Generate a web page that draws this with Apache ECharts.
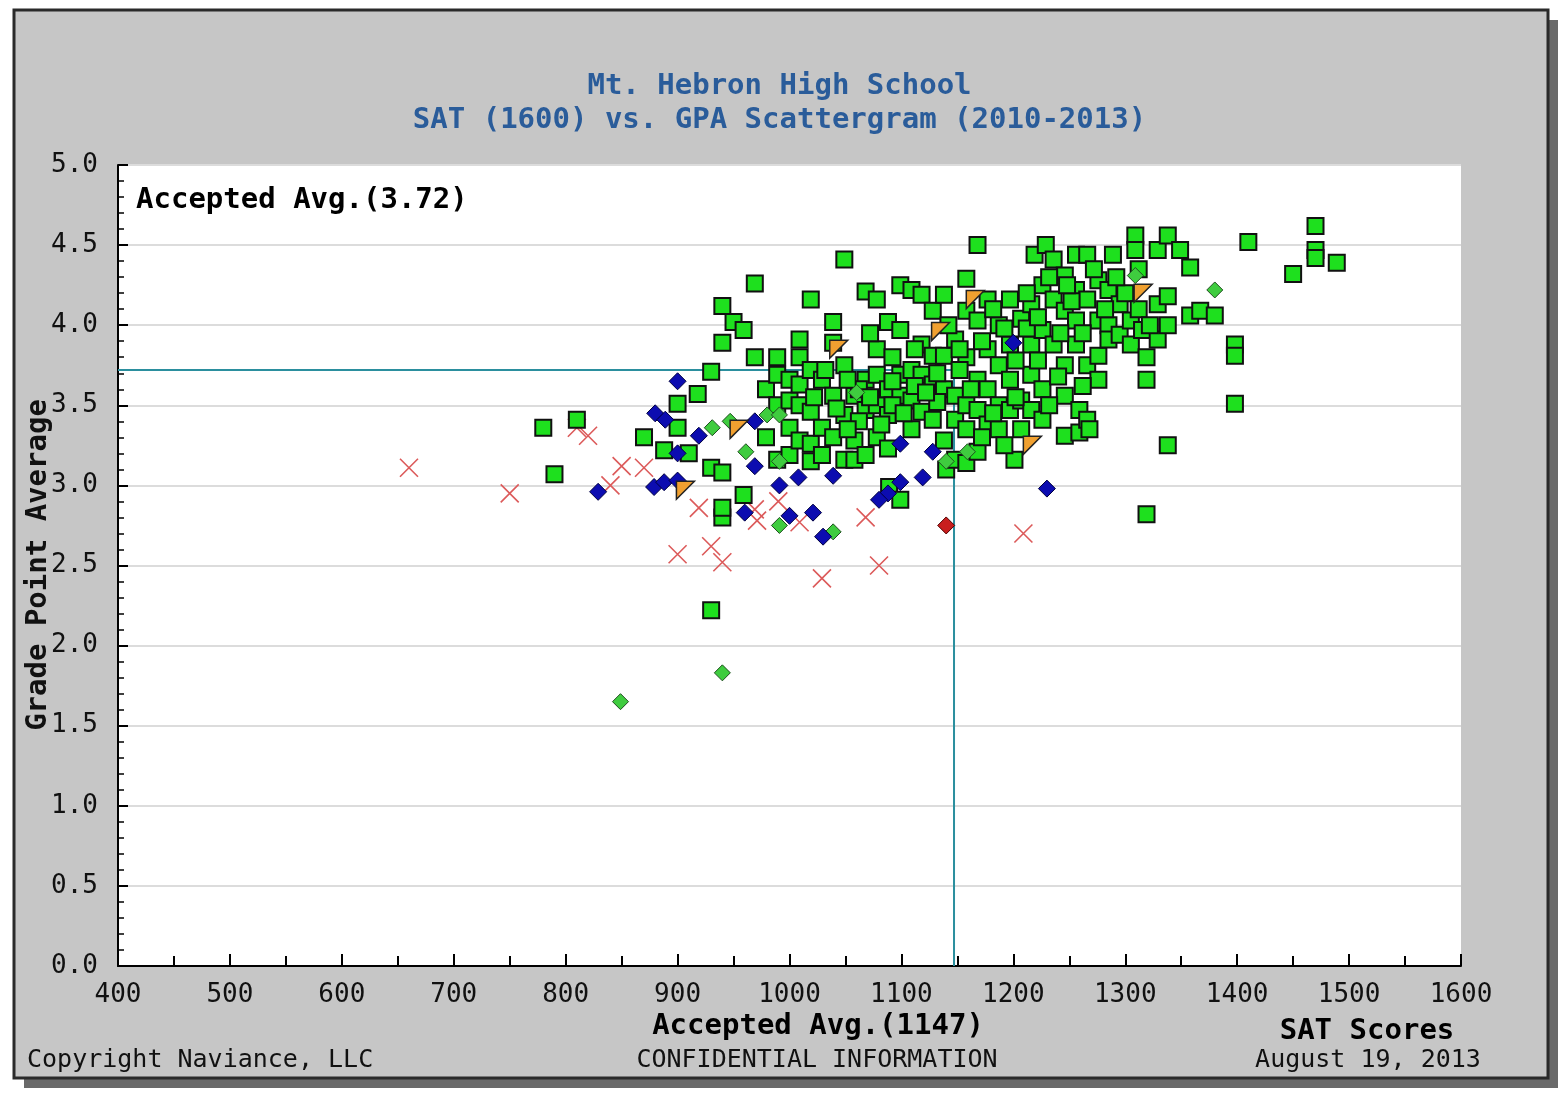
<!DOCTYPE html>
<html>
<head>
<meta charset="utf-8">
<script src="https://cdn.jsdelivr.net/npm/echarts@6/dist/echarts.min.js"></script>
<style>html,body{margin:0;padding:0;background:#fff;}#c{width:1559px;height:1094px;}</style>
</head>
<body>
<div id="c"></div>
<script>
const titleLines = ['Mt. Hebron High School', 'SAT (1600) vs. GPA Scattergram (2010-2013)'];
const xTicks = [400, 500, 600, 700, 800, 900, 1000, 1100, 1200, 1300, 1400, 1500, 1600];
const yTicks = [0, 0.5, 1, 1.5, 2, 2.5, 3, 3.5, 4, 4.5, 5];
const avgGPA = 3.72;
const avgSAT = 1147;

const accepted = [
[780,3.36],[810,3.41],[790,3.07],[870,3.30],[888,3.22],[900,3.51],[900,3.36],[910,3.20],[918,3.57],[930,3.71],
[930,3.11],[940,3.08],[940,2.80],[940,2.86],[940,3.89],[940,4.12],[950,4.02],[959,3.97],[969,4.26],[959,2.94],[930,2.22],
[969,3.80],[979,3.60],[979,3.30],[989,3.80],[989,3.69],[989,3.50],[989,3.16],[1000,3.66],[1000,3.53],[1000,3.36],
[1000,3.19],[1009,3.91],[1009,3.80],[1009,3.63],[1009,3.50],[1009,3.28],[1019,4.16],[1019,3.72],[1019,3.46],[1019,3.26],[1019,3.15],
[1029,3.66],[1029,3.36],[1029,3.19],[1039,4.02],[1039,3.89],[1039,3.56],[1039,3.30],[1049,4.41],[1049,3.75],
[1049,3.44],[1049,3.16],[1058,3.56],[1058,3.28],[1058,3.16],[1068,4.21],[1068,3.66],[1068,3.47],[1068,3.19],[1078,4.16],
[1078,3.85],[1078,3.69],[1078,3.50],[1078,3.30],[1088,4.02],[1088,3.60],[1088,3.44],[1088,3.23],[1089,2.99],[1099,4.25],
[1099,3.97],[1099,3.69],[1099,3.56],[1099,2.91],[1109,4.22],[1109,3.72],[1109,3.53],[1109,3.35],[1118,4.19],
[1118,3.88],[1118,3.69],[1118,3.46],[1128,4.09],[1128,3.81],[1128,3.63],[1128,3.41],[1138,4.19],[1138,3.81],
[1138,3.60],[1138,3.28],[1140,3.10],[1148,3.91],[1148,3.56],[1148,3.41],[1148,3.16],[1158,4.29],[1158,4.09],[1158,3.80],
[1158,3.50],[1158,3.35],[1158,3.14],[1168,4.50],[1168,4.03],[1168,3.66],[1168,3.47],[1168,3.21],[1177,4.16],[1177,3.85],
[1177,3.60],[1177,3.38],[1187,4.00],[1187,3.75],[1187,3.50],[1187,3.35],[1197,4.16],[1197,3.88],[1197,3.66],
[1197,3.47],[1201,3.16],[1207,4.04],[1207,3.53],[1207,3.35],[1216,4.13],[1216,3.88],[1216,3.69],[1216,3.47],
[1219,4.44],[1226,4.25],[1226,3.97],[1226,3.60],[1226,3.41],[1229,4.50],[1236,4.41],[1236,4.16],[1236,3.88],
[1246,4.31],[1246,4.09],[1246,3.75],[1246,3.56],[1246,3.31],[1256,4.44],[1256,4.22],[1256,4.03],[1256,3.88],
[1259,3.47],[1259,3.33],[1266,4.44],[1266,4.16],[1266,3.75],[1266,3.41],[1268,3.35],[1276,4.28],[1276,4.03],
[1276,3.81],[1276,3.66],[1289,4.44],[1285,4.22],[1285,4.00],[1285,3.91],[1295,4.13],[1295,3.94],[1309,4.56],
[1309,4.47],[1305,4.03],[1305,3.88],[1315,3.97],[1319,3.66],[1319,3.80],[1329,4.47],[1329,4.13],[1329,3.91],
[1338,4.56],[1338,4.18],[1338,4.00],[1338,3.25],[1319,2.82],[1349,4.47],[1358,4.36],[1358,4.06],[1367,4.09],
[1380,4.06],[1398,3.88],[1398,3.81],[1398,3.51],[1410,4.52],[1450,4.32],[1470,4.62],[1470,4.47],[1470,4.42],[1489,4.39],
[1062,3.60],[1092,3.50],[1112,3.62],[1132,3.52],[1152,3.72],[1172,3.90],[1192,3.98],[1212,3.98],[1182,4.10],[1142,4.00],
[1122,3.58],[1102,3.45],[1082,3.38],[1062,3.40],[1042,3.48],[1022,3.55],[1032,3.72],[1052,3.66],[1072,3.55],[1092,3.80],
[1242,3.95],[1262,3.62],[1282,4.10],[1300,4.20],[1312,4.10],[1322,4.00],[1252,4.15],[1272,4.35],[1232,4.30],[1212,4.20],
[1162,3.60],[1182,3.45],[1202,3.55],[1222,3.78],[1240,3.68],[1172,3.30],[1192,3.25],[1232,3.50],[1262,3.95],[1292,4.30],
[1312,4.35],[1248,4.25],[1222,4.05],[1202,3.78],[1152,3.85],[1132,3.70],[1112,3.85],[1092,3.65],[1072,3.95],[1052,3.35]
];
const denied = [
[660,3.11],[750,2.95],[810,3.36],[820,3.31],[840,3.00],[850,3.12],[870,3.11],[900,2.57],[919,2.86],[930,2.62],
[940,2.52],[969,2.85],[971,2.78],[990,2.90],[1009,2.77],[1029,2.42],[1068,2.80],[1080,2.50],[1209,2.70],[1019,3.58]
];
const waitlisted = [
[900,3.65],[880,3.45],[889,3.41],[919,3.31],[900,3.20],[969,3.40],[829,2.96],[879,2.99],[888,3.02],[900,3.03],
[969,3.12],[991,3.00],[1008,3.05],[960,2.83],[1000,2.81],[1021,2.83],[1030,2.68],[1099,3.26],[1128,3.21],[1039,3.06],
[1119,3.05],[1099,3.02],[1088,2.95],[1080,2.91],[1230,2.98],[1200,3.89]
];
const waitlistAccepted = [
[931,3.36],[947,3.40],[961,3.21],[980,3.44],[991,3.44],[991,3.15],[991,2.75],[1039,2.71],[1140,3.15],[1159,3.21],
[1060,3.58],[849,1.65],[940,1.83],[1380,4.22],[1309,4.31]
];
const earlyAccepted = [
[907,2.97],[955,3.35],[1044,3.85],[1135,3.96],[1166,4.16],[1217,3.25],[1316,4.20]
];
const waitlistDenied = [[1140,2.75]];

const MONO = '"DejaVu Sans Mono", "Liberation Mono", monospace';
const chart = echarts.init(document.getElementById('c'), null, {renderer: 'canvas'});

chart.setOption({
  backgroundColor: '#ffffff',
  animation: false,
  title: {
    text: titleLines.join('\n'),
    left: 'center',
    top: 64,
    textStyle: {fontFamily: MONO, fontSize: 29, fontWeight: 'bold', color: '#2a5c9a', lineHeight: 34}
  },
  grid: {left: 118, right: 98, top: 165, bottom: 128, show: true, backgroundColor: '#ffffff', borderWidth: 0},
  xAxis: {
    type: 'value', min: xTicks[0], max: xTicks[xTicks.length - 1], interval: 100,
    axisLine: {show: true, lineStyle: {color: '#000', width: 2}},
    axisTick: {show: true, inside: true, length: 12, lineStyle: {color: '#000', width: 2}},
    minorTick: {show: true, splitNumber: 2, length: 10, lineStyle: {color: '#000', width: 2}},
    axisLabel: {margin: 16, fontFamily: MONO, fontSize: 26, color: '#111', formatter: v => String(v)},
    splitLine: {show: false}
  },
  yAxis: {
    type: 'value', min: yTicks[0], max: yTicks[yTicks.length - 1], interval: 0.5,
    axisLine: {show: true, lineStyle: {color: '#000', width: 2}},
    axisTick: {show: true, inside: true, length: 10, lineStyle: {color: '#000', width: 2}},
    minorTick: {show: true, splitNumber: 5, length: 6, lineStyle: {color: '#000', width: 1.5}},
    axisLabel: {margin: 20, fontFamily: MONO, fontSize: 26, color: '#111', formatter: v => v.toFixed(1)},
    splitLine: {show: true, lineStyle: {color: '#dcdcdc', width: 2}}
  },
  graphic: [
    {type: 'rect', z: -100, silent: true, shape: {x: 24, y: 20, width: 1534, height: 1068}, style: {fill: '#6a6a6a'}},
    {type: 'rect', z: -99, silent: true, shape: {x: 14, y: 10, width: 1534, height: 1068}, style: {fill: '#c6c6c6', stroke: '#2a2a2a', lineWidth: 3}},
    {type: 'text', z: 100, left: 136, top: 186, style: {text: 'Accepted Avg.(' + avgGPA.toFixed(2) + ')', font: 'bold 29px ' + MONO, fill: '#000'}},
    {type: 'text', z: 100, x: 38, y: 565, rotation: Math.PI / 2, style: {text: 'Grade Point Average', font: 'bold 29px ' + MONO, fill: '#111', align: 'center', verticalAlign: 'middle'}},
    {type: 'text', z: 100, x: 818, y: 1026, style: {text: 'Accepted Avg.(' + avgSAT + ')', font: 'bold 29px ' + MONO, fill: '#000', align: 'center', verticalAlign: 'middle'}},
    {type: 'text', z: 100, x: 1367, y: 1031, style: {text: 'SAT Scores', font: 'bold 29px ' + MONO, fill: '#000', align: 'center', verticalAlign: 'middle'}},
    {type: 'text', z: 100, x: 27, y: 1060, style: {text: 'Copyright Naviance, LLC', font: '25px ' + MONO, fill: '#111', align: 'left', verticalAlign: 'middle'}},
    {type: 'text', z: 100, x: 817, y: 1060, style: {text: 'CONFIDENTIAL INFORMATION', font: '25px ' + MONO, fill: '#111', align: 'center', verticalAlign: 'middle'}},
    {type: 'text', z: 100, x: 1368, y: 1060, style: {text: 'August 19, 2013', font: '25px ' + MONO, fill: '#111', align: 'center', verticalAlign: 'middle'}}
  ],
  series: [
    {name: 'Avg lines', type: 'line', data: [[xTicks[0], avgGPA], [avgSAT, avgGPA], [avgSAT, yTicks[0]]],
     symbol: 'none', lineStyle: {color: '#2b8f9e', width: 2}, z: 1, silent: true},
    {name: 'Denied', type: 'scatter', data: denied, symbol: 'path://M0,0L10,10M10,0L0,10', symbolSize: 18,
     itemStyle: {color: 'rgba(0,0,0,0)', borderColor: '#dc5a5a', borderWidth: 1.6, opacity: 1}, z: 2},
    {name: 'Accepted', type: 'scatter', data: accepted, symbol: 'rect', symbolSize: 16,
     itemStyle: {color: '#1ee01e', borderColor: '#111', borderWidth: 2, opacity: 1}, z: 3},
    {name: 'Waitlist Accepted', type: 'scatter', data: waitlistAccepted, symbol: 'diamond', symbolSize: 16,
     itemStyle: {color: '#3fcc3f', borderColor: '#1f4f1f', borderWidth: 1, opacity: 1}, z: 4},
    {name: 'Waitlisted', type: 'scatter', data: waitlisted, symbol: 'diamond', symbolSize: 17,
     itemStyle: {color: '#0c0cb0', borderColor: '#000040', borderWidth: 1, opacity: 1}, z: 5},
    {name: 'Waitlist Denied', type: 'scatter', data: waitlistDenied, symbol: 'diamond', symbolSize: 17,
     itemStyle: {color: '#c81e1e', borderColor: '#500000', borderWidth: 1, opacity: 1}, z: 5},
    {name: 'Early Accepted', type: 'scatter', data: earlyAccepted, symbol: 'path://M0,0L10,0L0,10Z', symbolSize: 18,
     itemStyle: {color: '#f0a030', borderColor: '#222', borderWidth: 1.5, opacity: 1}, z: 6}
  ]
});
</script>
</body>
</html>
